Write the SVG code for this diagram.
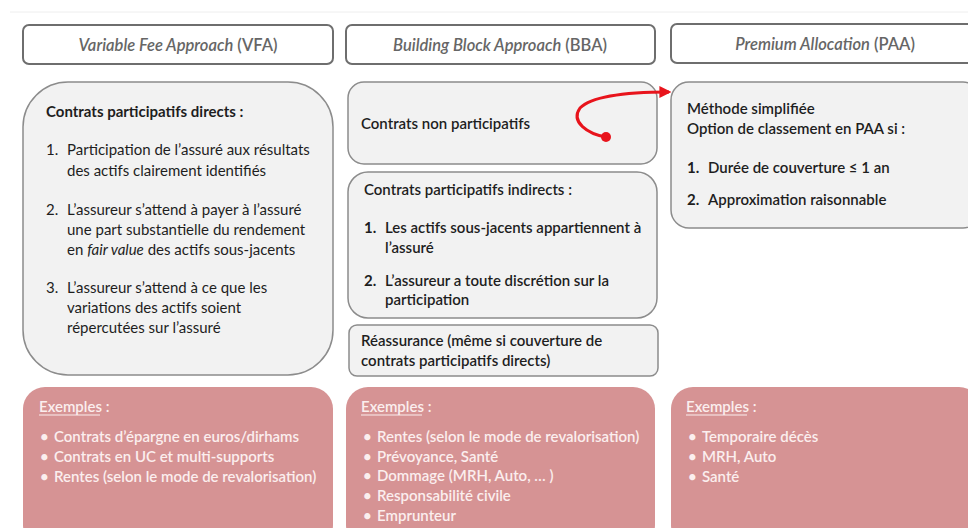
<svg xmlns="http://www.w3.org/2000/svg" width="968" height="528" viewBox="0 0 968 528">
<defs>
<style>
text{font-family:Lato,"Open Sans","Liberation Sans",sans-serif;fill:#1e1e1e;font-size:15px}
.hdr{fill:#fff;stroke:#6e6e6e;stroke-width:2}
.ht{fill:#666666;font-size:16.5px;text-anchor:middle;font-weight:600}
.box{fill:#f2f2f2;stroke:#8c8c8c;stroke-width:1.5}
.ex{fill:#d69394}
.et{fill:#fbeeee;font-weight:600}
.b{font-weight:700}
.sb{font-weight:600}
</style>
<marker id="ah" viewBox="0 0 10 10" refX="8" refY="5" markerWidth="4" markerHeight="4" orient="auto" markerUnits="strokeWidth">
<path d="M0,0 L10,5 L0,10 z" fill="#e8141c"/>
</marker>
</defs>
<rect width="968" height="528" fill="#fff"/>
<line x1="10" y1="12" x2="968" y2="12" stroke="#eeeeee" stroke-width="1"/>

<g id="hdr-vfa">
<rect class="hdr" x="23" y="25" width="310" height="39" rx="6"/>
<text class="ht" x="178" y="51"><tspan font-style="italic">Variable Fee Approach</tspan> (VFA)</text>
</g>
<g id="hdr-bba">
<rect class="hdr" x="346" y="25" width="309" height="39" rx="6"/>
<text class="ht" x="500" y="51"><tspan font-style="italic">Building Block Approach</tspan> (BBA)</text>
</g>
<g id="hdr-paa">
<rect class="hdr" x="671" y="24" width="310" height="39" rx="6"/>
<text class="ht" x="825" y="50"><tspan font-style="italic">Premium Allocation</tspan> (PAA)</text>
</g>

<g id="vfa-main">
<rect class="box" x="23" y="82" width="310" height="293" rx="45"/>
<text class="b" x="46" y="117" font-size="14">Contrats  participatifs directs :</text>
<text x="46" y="155">1.</text>
<text x="67" y="155">Participation de l’assuré aux résultats</text>
<text x="67" y="176">des actifs clairement identifiés</text>
<text x="46" y="215">2.</text>
<text x="67" y="215">L’assureur s’attend à payer à l’assuré</text>
<text x="67" y="235">une part substantielle du rendement</text>
<text x="67" y="255">en <tspan font-style="italic">fair value</tspan> des actifs sous-jacents</text>
<text x="46" y="293">3.</text>
<text x="67" y="293">L’assureur s’attend à ce que les</text>
<text x="67" y="313">variations des actifs soient</text>
<text x="67" y="333">répercutées sur l’assuré</text>
</g>

<g id="bba-nonpart">
<rect class="box" x="348" y="82" width="309" height="82" rx="16"/>
<text class="sb" x="361" y="129" font-size="14">Contrats non participatifs</text>
</g>
<g id="bba-indirect">
<rect class="box" x="348" y="172" width="309" height="146" rx="20"/>
<text class="sb" x="364" y="195" font-size="14">Contrats participatifs indirects :</text>
<text class="b" x="364" y="233" font-size="14">1.</text>
<text class="sb" x="385" y="233" font-size="14">Les actifs sous-jacents appartiennent à</text>
<text class="sb" x="385" y="253" font-size="14">l’assuré</text>
<text class="b" x="364" y="286" font-size="14">2.</text>
<text class="sb" x="385" y="286" font-size="14">L’assureur a toute discrétion sur la</text>
<text class="sb" x="385" y="305" font-size="14">participation</text>
</g>
<g id="bba-reass">
<rect class="box" x="349" y="325" width="309" height="51" rx="8"/>
<text class="sb" x="361" y="346" font-size="14">Réassurance (même si couverture de</text>
<text class="sb" x="361" y="366" font-size="14">contrats participatifs directs)</text>
</g>

<g id="paa-main">
<rect class="box" x="671" y="82" width="310" height="146" rx="18"/>
<text class="sb" x="687" y="114" font-size="14">Méthode simplifiée</text>
<text class="sb" x="687" y="134" font-size="14">Option de classement en PAA si :</text>
<text class="b" x="687" y="173" font-size="14">1.</text>
<text class="sb" x="708" y="173" font-size="14">Durée de couverture ≤ 1 an</text>
<text class="b" x="687" y="205" font-size="14">2.</text>
<text class="sb" x="708" y="205" font-size="14">Approximation raisonnable</text>
</g>

<g id="ex-vfa">
<rect class="ex" x="23" y="387" width="310" height="160" rx="22"/>
<text class="et" x="39" y="412" font-size="14">Exemples :</text>
<line x1="39" y1="415" x2="100" y2="415" stroke="#fbeeee" stroke-width="1"/>
<text class="et" x="40" y="442" font-size="11">•</text><text class="et" x="54" y="442" font-size="14">Contrats d’épargne en euros/dirhams</text>
<text class="et" x="40" y="462" font-size="11">•</text><text class="et" x="54" y="462" font-size="14">Contrats en UC et multi-supports</text>
<text class="et" x="40" y="482" font-size="11">•</text><text class="et" x="54" y="482" font-size="14">Rentes (selon le mode de revalorisation)</text>
</g>
<g id="ex-bba">
<rect class="ex" x="346" y="387" width="309" height="160" rx="22"/>
<text class="et" x="361" y="412" font-size="14">Exemples :</text>
<line x1="361" y1="415" x2="422" y2="415" stroke="#fbeeee" stroke-width="1"/>
<text class="et" x="363" y="442" font-size="11">•</text><text class="et" x="377" y="442" font-size="14">Rentes (selon le mode de revalorisation)</text>
<text class="et" x="363" y="462" font-size="11">•</text><text class="et" x="377" y="462" font-size="14">Prévoyance, Santé</text>
<text class="et" x="363" y="481" font-size="11">•</text><text class="et" x="377" y="481" font-size="14">Dommage (MRH, Auto, … )</text>
<text class="et" x="363" y="501" font-size="11">•</text><text class="et" x="377" y="501" font-size="14">Responsabilité civile</text>
<text class="et" x="363" y="521" font-size="11">•</text><text class="et" x="377" y="521" font-size="14">Emprunteur</text>
</g>
<g id="ex-paa">
<rect class="ex" x="671" y="387" width="310" height="160" rx="22"/>
<text class="et" x="686" y="412" font-size="14">Exemples :</text>
<line x1="686" y1="415" x2="747" y2="415" stroke="#fbeeee" stroke-width="1"/>
<text class="et" x="688" y="442" font-size="11">•</text><text class="et" x="702" y="442" font-size="14">Temporaire décès</text>
<text class="et" x="688" y="462" font-size="11">•</text><text class="et" x="702" y="462" font-size="14">MRH, Auto</text>
<text class="et" x="688" y="482" font-size="11">•</text><text class="et" x="702" y="482" font-size="14">Santé</text>
</g>

<g id="connectors">
<path d="M606,137 C588,134 570,122 580,108 C594,94 635,92 669,92" fill="none" stroke="#e8141c" stroke-width="3" marker-end="url(#ah)"/>
<circle cx="606" cy="137" r="5" fill="#e8141c"/>
</g>
</svg>
